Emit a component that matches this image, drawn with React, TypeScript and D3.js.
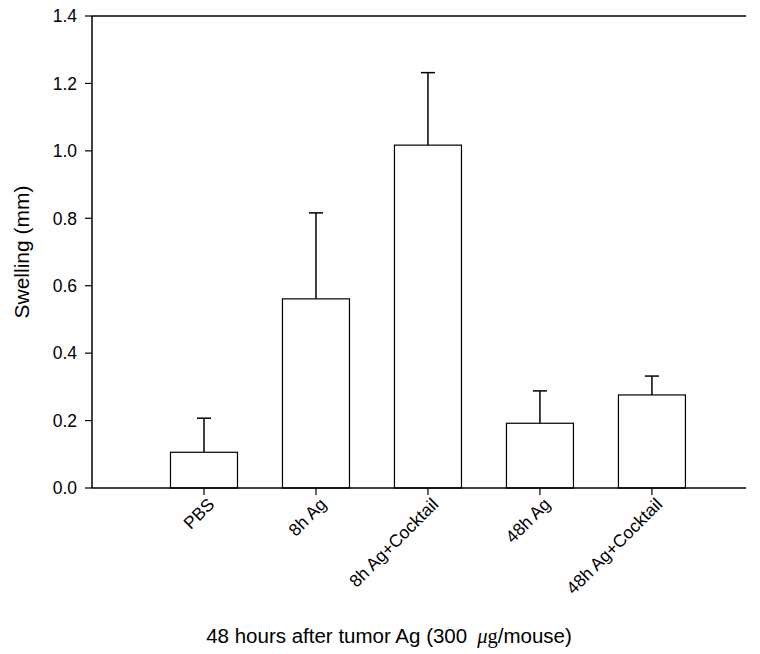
import React from "react";
import * as d3 from "d3";

const categories = ["PBS", "8h Ag", "8h Ag+Cocktail", "48h Ag", "48h Ag+Cocktail"];
const means = [0.106, 0.561, 1.017, 0.192, 0.276];
const errUpper = [0.207, 0.816, 1.232, 0.288, 0.332];
const yTicks = [0, 0.2, 0.4, 0.6, 0.8, 1.0, 1.2, 1.4];

const W = 760;
const H = 654;
const left = 92;
const right = 746;
const top = 16;
const bottom = 488;
const barW = 67;
const capW = 14;
const font = "Liberation Sans, Arial, sans-serif";

export default function App() {
  const x = d3.scaleLinear().domain([0, 5.84]).range([left, right]);
  const y = d3.scaleLinear().domain([0, 1.4]).range([bottom, top]);

  return (
    <svg
      width={W}
      height={H}
      style={{ position: "absolute", left: 0, top: 0, background: "#fff" }}
      fontFamily={font}
    >
      {/* bars */}
      {categories.map((c, i) => {
        const cx = x(i + 1);
        return (
          <g key={c}>
            <line x1={cx} x2={cx} y1={y(means[i])} y2={y(errUpper[i])} stroke="#000" strokeWidth={1.5} />
            <line
              x1={cx - capW / 2}
              x2={cx + capW / 2}
              y1={y(errUpper[i])}
              y2={y(errUpper[i])}
              stroke="#000"
              strokeWidth={1.5}
            />
            <rect
              x={cx - barW / 2}
              y={y(means[i])}
              width={barW}
              height={bottom - y(means[i])}
              fill="#fff"
              stroke="#000"
              strokeWidth={1.2}
            />
          </g>
        );
      })}

      {/* frame */}
      <line x1={left} x2={right} y1={top} y2={top} stroke="#000" strokeWidth={1.5} />
      <line x1={left} x2={left} y1={top} y2={bottom} stroke="#000" strokeWidth={1.5} />
      <line x1={left} x2={right} y1={bottom} y2={bottom} stroke="#000" strokeWidth={1.5} />

      {/* y ticks */}
      {yTicks.map((t) => (
        <g key={t}>
          <line x1={left - 7} x2={left} y1={y(t)} y2={y(t)} stroke="#000" strokeWidth={1.2} />
          <text x={77} y={y(t)} dy="0.36em" textAnchor="end" fontSize={17.5}>
            {t.toFixed(1)}
          </text>
        </g>
      ))}

      {/* x ticks */}
      {categories.map((c, i) => {
        const cx = x(i + 1);
        return (
          <g key={c}>
            <line x1={cx} x2={cx} y1={bottom} y2={bottom + 7} stroke="#000" strokeWidth={1.2} />
            <text
              transform={`translate(${cx + 7},${bottom + 13}) rotate(-45)`}
              textAnchor="end"
              dy="0.36em"
              fontSize={17.5}
            >
              {c}
            </text>
          </g>
        );
      })}

      {/* axis titles */}
      <text
        transform={`translate(29,${(top + bottom) / 2}) rotate(-90)`}
        textAnchor="middle"
        fontSize={21}
      >
        Swelling (mm)
      </text>
      <text x={389} y={643} textAnchor="middle" fontSize={20.5}>
        48 hours after tumor Ag (300
        <tspan dx={10} fontFamily="Liberation Serif, Times New Roman, serif" fontStyle="italic">μ</tspan>
        <tspan fontFamily="Liberation Serif, Times New Roman, serif">g</tspan>/mouse)
      </text>
    </svg>
  );
}
